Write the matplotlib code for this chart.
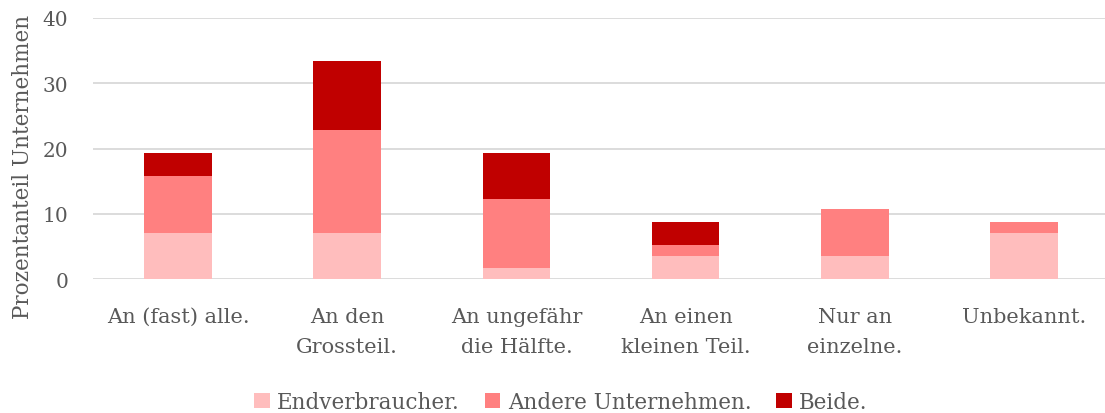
import matplotlib
matplotlib.use("Agg")
import matplotlib.pyplot as plt
import numpy as np

categories = ["An (fast) alle.", "An den\nGrossteil.", "An ungefähr\ndie Hälfte.",
              "An einen\nkleinen Teil.", "Nur an\neinzelne.", "Unbekannt."]
series_names = ["Endverbraucher.", "Andere Unternehmen.", "Beide."]
endverbraucher = [7.02, 7.02, 1.75, 3.51, 3.51, 7.02]
andere = [8.77, 15.79, 10.53, 1.75, 7.19, 1.75]
beide = [3.51, 10.53, 7.02, 3.51, 0.0, 0.0]
colors = ["#FFBDBD", "#FF8080", "#C00000"]
yticks = [0, 10, 20, 30, 40]

txt = "#595959"
plt.rcParams['font.family'] = ['DejaVu Serif']

fig = plt.figure(figsize=(11.05, 4.14), dpi=100)
ax = fig.add_axes([93.4 / 1105, (414 - 280) / 414, 1015.2 / 1105, 261 / 414])

x = np.arange(len(categories))
w = 0.40
b1 = ax.bar(x, endverbraucher, w, color=colors[0], label=series_names[0], zorder=3)
bottom2 = np.array(endverbraucher)
b2 = ax.bar(x, andere, w, bottom=bottom2, color=colors[1], label=series_names[1], zorder=3)
bottom3 = bottom2 + np.array(andere)
b3 = ax.bar(x, beide, w, bottom=bottom3, color=colors[2], label=series_names[2], zorder=3)

ax.set_xlim(-0.5, 5.5)
ax.set_ylim(0, 40)
ax.set_yticks(yticks)
ax.set_yticklabels([str(t) for t in yticks])
ax.set_xticks(x)
ax.set_xticklabels(categories, linespacing=1.75, va="top", fontsize=15)
ax.grid(axis="y", color="#D9D9D9", linewidth=1.3, zorder=0)
for s in ax.spines.values():
    s.set_visible(False)
ax.tick_params(axis="both", length=0, colors=txt)
ax.tick_params(axis="y", pad=18, labelsize=14.5)
ax.tick_params(axis="x", pad=20)

fig.text(23 / 1105, (414 - 167) / 414, "Prozentanteil Unternehmen", rotation=90,
         ha="center", va="center", fontsize=15.5, color=txt)

leg = fig.legend(handles=[b1, b2, b3], labels=series_names, loc="center",
                 bbox_to_anchor=(561 / 1105, (414 - 403) / 414), ncol=3, frameon=False,
                 fontsize=15.5, handlelength=0.72, handleheight=0.72, handletextpad=0.35,
                 columnspacing=1.15, borderaxespad=0)
for t in leg.get_texts():
    t.set_color(txt)

fig.savefig("out.png", dpi=100)
